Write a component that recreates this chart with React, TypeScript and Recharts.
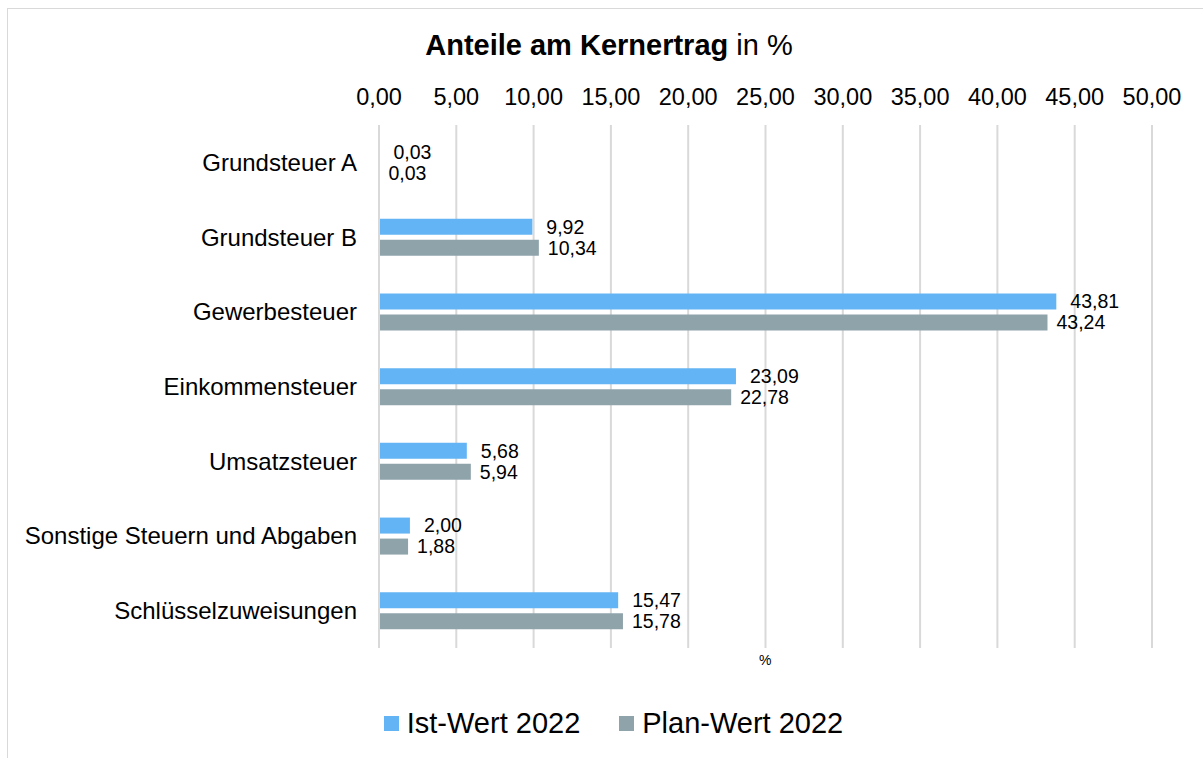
import React from 'react';
import { BarChart, Bar, XAxis, YAxis, CartesianGrid, Legend, LabelList } from 'recharts';

const categories = [
  'Grundsteuer A',
  'Grundsteuer B',
  'Gewerbesteuer',
  'Einkommensteuer',
  'Umsatzsteuer',
  'Sonstige Steuern und Abgaben',
  'Schlüsselzuweisungen',
];
const istWerte = [0.03, 9.92, 43.81, 23.09, 5.68, 2.0, 15.47];
const planWerte = [0.03, 10.34, 43.24, 22.78, 5.94, 1.88, 15.78];
const xTicks = [0, 5, 10, 15, 20, 25, 30, 35, 40, 45, 50];

const data = categories.map((name, i) => ({ name, ist: istWerte[i], plan: planWerte[i] }));

const fmt = (v: number) => v.toFixed(2).replace('.', ',');
const FONT = '"Liberation Sans", Arial, sans-serif';
const BLUE = '#63b4f5';
const GRAY = '#8fa3ab';

const renderLegend = (props: any) => {
  const { payload } = props;
  return (
    <div style={{ display: 'flex', justifyContent: 'center', gap: 39, fontFamily: FONT, fontSize: 29, color: '#000' }}>
      {payload.map((entry: any) => (
        <div key={entry.value} style={{ display: 'flex', alignItems: 'center' }}>
          <div style={{ width: 15, height: 15, background: entry.color, marginRight: 8 }}></div>
          <span>{entry.value}</span>
        </div>
      ))}
    </div>
  );
};

const App: React.FC = () => {
  return (
    <div style={{ position: 'absolute', left: 7, top: 8, width: 1210, height: 760, border: '1px solid #d9d9d9', background: '#fff' }}>
      <div style={{ position: 'absolute', top: 20, left: 0, width: 1202, textAlign: 'center', fontFamily: FONT, fontSize: 29, color: '#000' }}>
        <span style={{ fontWeight: 'bold' }}>Anteile am Kernertrag</span> in %
      </div>
      <div style={{ position: 'absolute', top: 643, left: 751, fontFamily: FONT, fontSize: 14, color: '#000' }}>%</div>
      <BarChart
        width={1195}
        height={749}
        data={data}
        layout="vertical"
        margin={{ top: 76, right: 51, bottom: 110, left: 0 }}
        barSize={16}
        barGap={5}
      >
        <CartesianGrid horizontal={false} stroke="#d9d9d9" strokeWidth={2} />
        <XAxis
          type="number"
          orientation="top"
          domain={[0, 50]}
          ticks={xTicks}
          tickFormatter={fmt}
          height={40}
          axisLine={false}
          tickLine={false}
          tickSize={0}
          tickMargin={20}
          tick={{ fill: '#000', fontSize: 23.5, fontFamily: FONT }}
        />
        <YAxis
          type="category"
          dataKey="name"
          width={371}
          axisLine={{ stroke: '#d9d9d9', strokeWidth: 2 }}
          tickLine={false}
          tickSize={0}
          tickMargin={22}
          tick={{ fill: '#000', fontSize: 24, fontFamily: FONT }}
        />
        <Legend
          layout="horizontal"
          verticalAlign="middle"
          align="center"
          content={renderLegend}
          wrapperStyle={{ top: 698, left: 8, width: 1195 }}
        />
        <Bar dataKey="ist" name="Ist-Wert 2022" fill={BLUE} isAnimationActive={false}>
          <LabelList dataKey="ist" position="right" offset={14} formatter={(v: any) => fmt(Number(v))} style={{ fill: '#000', fontSize: 19.5, fontFamily: FONT }} />
        </Bar>
        <Bar dataKey="plan" name="Plan-Wert 2022" fill={GRAY} isAnimationActive={false}>
          <LabelList dataKey="plan" position="right" offset={9} formatter={(v: any) => fmt(Number(v))} style={{ fill: '#000', fontSize: 19.5, fontFamily: FONT }} />
        </Bar>
      </BarChart>
    </div>
  );
};

export default App;
